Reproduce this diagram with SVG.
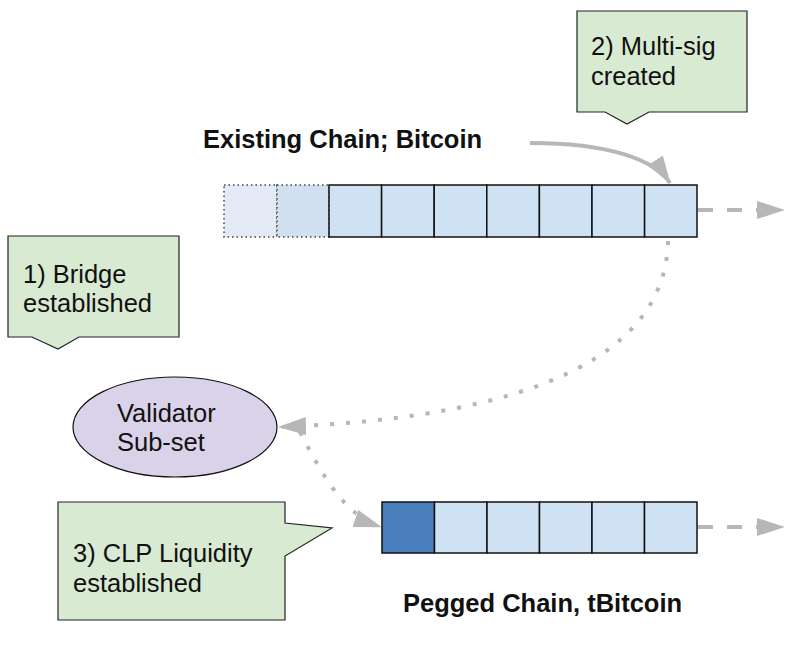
<svg xmlns="http://www.w3.org/2000/svg" width="800" height="660" viewBox="0 0 800 660">
<style>
.t{font-family:"Liberation Sans",Arial,sans-serif;font-size:25.5px;fill:#111}
.b{font-weight:bold}
.cell{fill:#cfe2f3;stroke:#111;stroke-width:1.5}
.dcell{stroke:#444;stroke-width:1.5;stroke-dasharray:1.5 3}
.call{fill:#d9ead3;stroke:#222;stroke-width:1.2}
.gl{fill:none;stroke:#b7b7b7;stroke-width:4}
.dot{stroke-dasharray:4 12}
.dash{stroke-dasharray:15 14}
</style>
<defs>
<marker id="ah" markerUnits="userSpaceOnUse" markerWidth="28" markerHeight="18" refX="27" refY="9" orient="auto">
<path d="M0,0 L28,9 L0,18 Z" fill="#b7b7b7"/>
</marker>
<marker id="ah2" markerUnits="userSpaceOnUse" markerWidth="28" markerHeight="18" refX="27" refY="9" orient="auto">
<path d="M0,0 L28,9 L0,18 Z" fill="#b7b7b7"/>
</marker>
</defs>

<g id="connectors">
<path class="gl" d="M530,143 C610,143 655,160 670,183" marker-end="url(#ah)"/>
<line class="gl dash" x1="698" y1="210" x2="784" y2="210" marker-end="url(#ah2)"/>
<line class="gl dash" x1="698" y1="527" x2="784" y2="527" marker-end="url(#ah2)"/>
<path class="gl dot" d="M668,241 C665,380 470,420 279,427" marker-end="url(#ah)"/>
<path class="gl dot" d="M300,432 C325,480 345,515 381,527" marker-end="url(#ah)"/>
</g>

<g id="existing-chain">
<rect class="dcell" x="224" y="185" width="53" height="52" fill="#e3eaf6"/>
<rect class="dcell" x="277" y="185" width="52" height="52" fill="#d0e0f1"/>
<rect class="cell" x="329" y="185" width="52.6" height="52"/>
<rect class="cell" x="381.6" y="185" width="52.6" height="52"/>
<rect class="cell" x="434.2" y="185" width="52.6" height="52"/>
<rect class="cell" x="486.8" y="185" width="52.6" height="52"/>
<rect class="cell" x="539.4" y="185" width="52.6" height="52"/>
<rect class="cell" x="592" y="185" width="52.6" height="52"/>
<rect class="cell" x="644.6" y="185" width="52.4" height="52"/>
<text class="t b" x="203" y="148">Existing Chain; Bitcoin</text>
</g>

<g id="pegged-chain">
<rect class="cell" x="382" y="502" width="52.5" height="51" style="fill:#4a7fbd"/>
<rect class="cell" x="434.5" y="502" width="52.5" height="51"/>
<rect class="cell" x="487" y="502" width="52.5" height="51"/>
<rect class="cell" x="539.5" y="502" width="52.5" height="51"/>
<rect class="cell" x="592" y="502" width="52.5" height="51"/>
<rect class="cell" x="644.5" y="502" width="52.5" height="51"/>
<text class="t b" x="403" y="612">Pegged Chain, tBitcoin</text>
</g>

<g id="multisig-callout">
<path class="call" d="M577,11 H747 V112 H649 L627,124 L605,112 H577 Z"/>
<text class="t" x="591" y="55">2) Multi-sig</text>
<text class="t" x="591" y="85">created</text>
</g>

<g id="bridge-callout">
<path class="call" d="M8,236 H179 V337 H79 L58,349 L32,337 H8 Z"/>
<text class="t" x="23" y="283">1) Bridge</text>
<text class="t" x="23" y="312">established</text>
</g>

<g id="validator">
<ellipse cx="175" cy="427" rx="102" ry="50" fill="#d9d2e9" stroke="#111" stroke-width="1.2"/>
<text class="t" x="117" y="422">Validator</text>
<text class="t" x="117" y="451">Sub-set</text>
</g>

<g id="clp-callout">
<path class="call" d="M58,502 H285 V523 L332,528 L285,556 V620 H58 Z"/>
<text class="t" x="73" y="562">3) CLP Liquidity</text>
<text class="t" x="73" y="592">established</text>
</g>
</svg>
